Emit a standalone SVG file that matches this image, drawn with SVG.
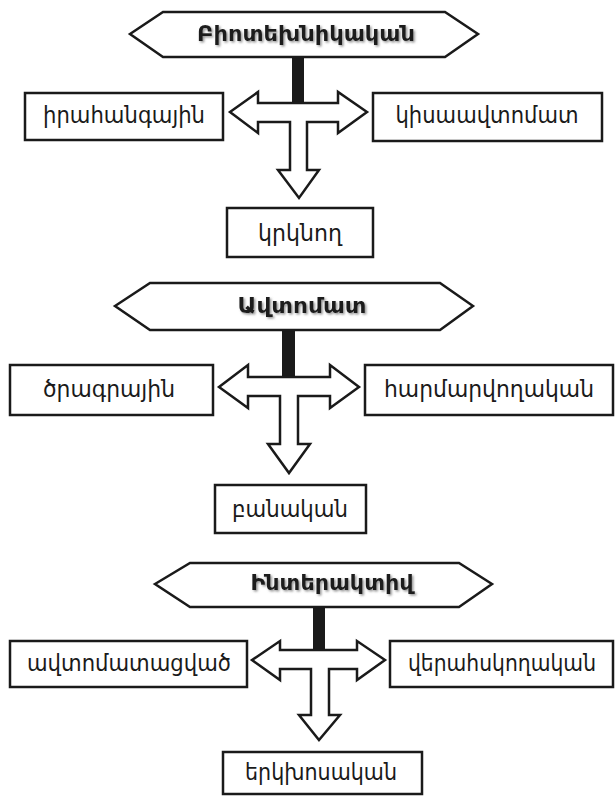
<svg xmlns="http://www.w3.org/2000/svg" width="615" height="796" viewBox="0 0 615 796">
<style>
.hex{fill:#fff;stroke:#1a1a1a;stroke-width:2.5;stroke-linejoin:miter}
.box{fill:#fff;stroke:#1a1a1a;stroke-width:2.5}
.arr{fill:#fff;stroke:#1a1a1a;stroke-width:2.5;stroke-linejoin:miter}
.bar{fill:#1a1a1a}
.t{font-family:"DejaVu Sans","Noto Sans",sans-serif;font-size:23px;fill:#1a1a1a;text-anchor:middle}
.h{font-family:"DejaVu Sans","Noto Sans",sans-serif;font-size:22px;font-weight:bold;fill:#1a1a1a;text-anchor:middle;filter:url(#sh)}
</style>
<defs>
<filter id="sh" x="-10%" y="-30%" width="120%" height="160%">
<feDropShadow dx="1.5" dy="1.5" stdDeviation="1" flood-color="#777" flood-opacity="0.8"/>
</filter>
</defs>
<rect width="615" height="796" fill="#fff"/>
<g id="connectors">
<rect class="bar" x="292" y="56" width="12" height="48"/>
<polygon class="arr" points="230,112 258,92 258,103 338,103 338,92 367,112 338,133 338,122 307,122 307,170 319,170 299,198 278,170 290,170 290,122 258,122 258,133"/>
<rect class="bar" x="282" y="329" width="13" height="49"/>
<polygon class="arr" points="219,387 248,365 248,377 330,377 330,365 359,387 330,408 330,396 298,396 298,444 310,444 289,473 268,444 280,444 280,396 248,396 248,408"/>
<rect class="bar" x="313" y="606" width="12" height="45"/>
<polygon class="arr" points="252,660 280,641 280,650 357,650 357,641 385,660 357,680 357,669 329,669 329,715 340,715 319,740 299,715 311,715 311,669 280,669 280,680"/>
</g>
<g id="n1">
<polygon class="hex" points="130,34 163,12 445,12 478,34 445,57 163,57"/>
<text class="h" x="306" y="41" textLength="218" lengthAdjust="spacingAndGlyphs">Բիոտեխնիկական</text>
</g>
<g id="n1l"><rect class="box" x="25" y="93" width="198" height="47"/><text class="t" x="124" y="123" textLength="162" lengthAdjust="spacingAndGlyphs">իրահանգային</text></g>
<g id="n1r"><rect class="box" x="373" y="93" width="229" height="48"/><text class="t" x="487" y="123" textLength="183" lengthAdjust="spacingAndGlyphs">կիսաավտոմատ</text></g>
<g id="n1d"><rect class="box" x="227" y="208" width="146" height="49"/><text class="t" x="300" y="241" textLength="84" lengthAdjust="spacingAndGlyphs">կրկնող</text></g>
<g id="n2">
<polygon class="hex" points="115,306 150,283 440,283 473,306 440,330 150,330"/>
<text class="h" x="302" y="313" textLength="129" lengthAdjust="spacingAndGlyphs">Ավտոմատ</text>
</g>
<g id="n2l"><rect class="box" x="10" y="365" width="203" height="50"/><text class="t" x="109" y="397" textLength="132" lengthAdjust="spacingAndGlyphs">ծրագրային</text></g>
<g id="n2r"><rect class="box" x="365" y="365" width="248" height="50"/><text class="t" x="489" y="397" textLength="210" lengthAdjust="spacingAndGlyphs">հարմարվողական</text></g>
<g id="n2d"><rect class="box" x="215" y="485" width="151" height="48"/><text class="t" x="290" y="517" textLength="116" lengthAdjust="spacingAndGlyphs">բանական</text></g>
<g id="n3">
<polygon class="hex" points="155,584 190,563 459,563 492,584 459,607 190,607"/>
<text class="h" x="332" y="590" textLength="163" lengthAdjust="spacingAndGlyphs">Ինտերակտիվ</text>
</g>
<g id="n3l"><rect class="box" x="10" y="641" width="237" height="46"/><text class="t" x="129" y="671" textLength="204" lengthAdjust="spacingAndGlyphs">ավտոմատացված</text></g>
<g id="n3r"><rect class="box" x="390" y="641" width="223" height="46"/><text class="t" x="502" y="671" textLength="188" lengthAdjust="spacingAndGlyphs">վերահսկողական</text></g>
<g id="n3d"><rect class="box" x="223" y="752" width="199" height="42"/><text class="t" x="321" y="780" textLength="152" lengthAdjust="spacingAndGlyphs">երկխոսական</text></g>
</svg>
